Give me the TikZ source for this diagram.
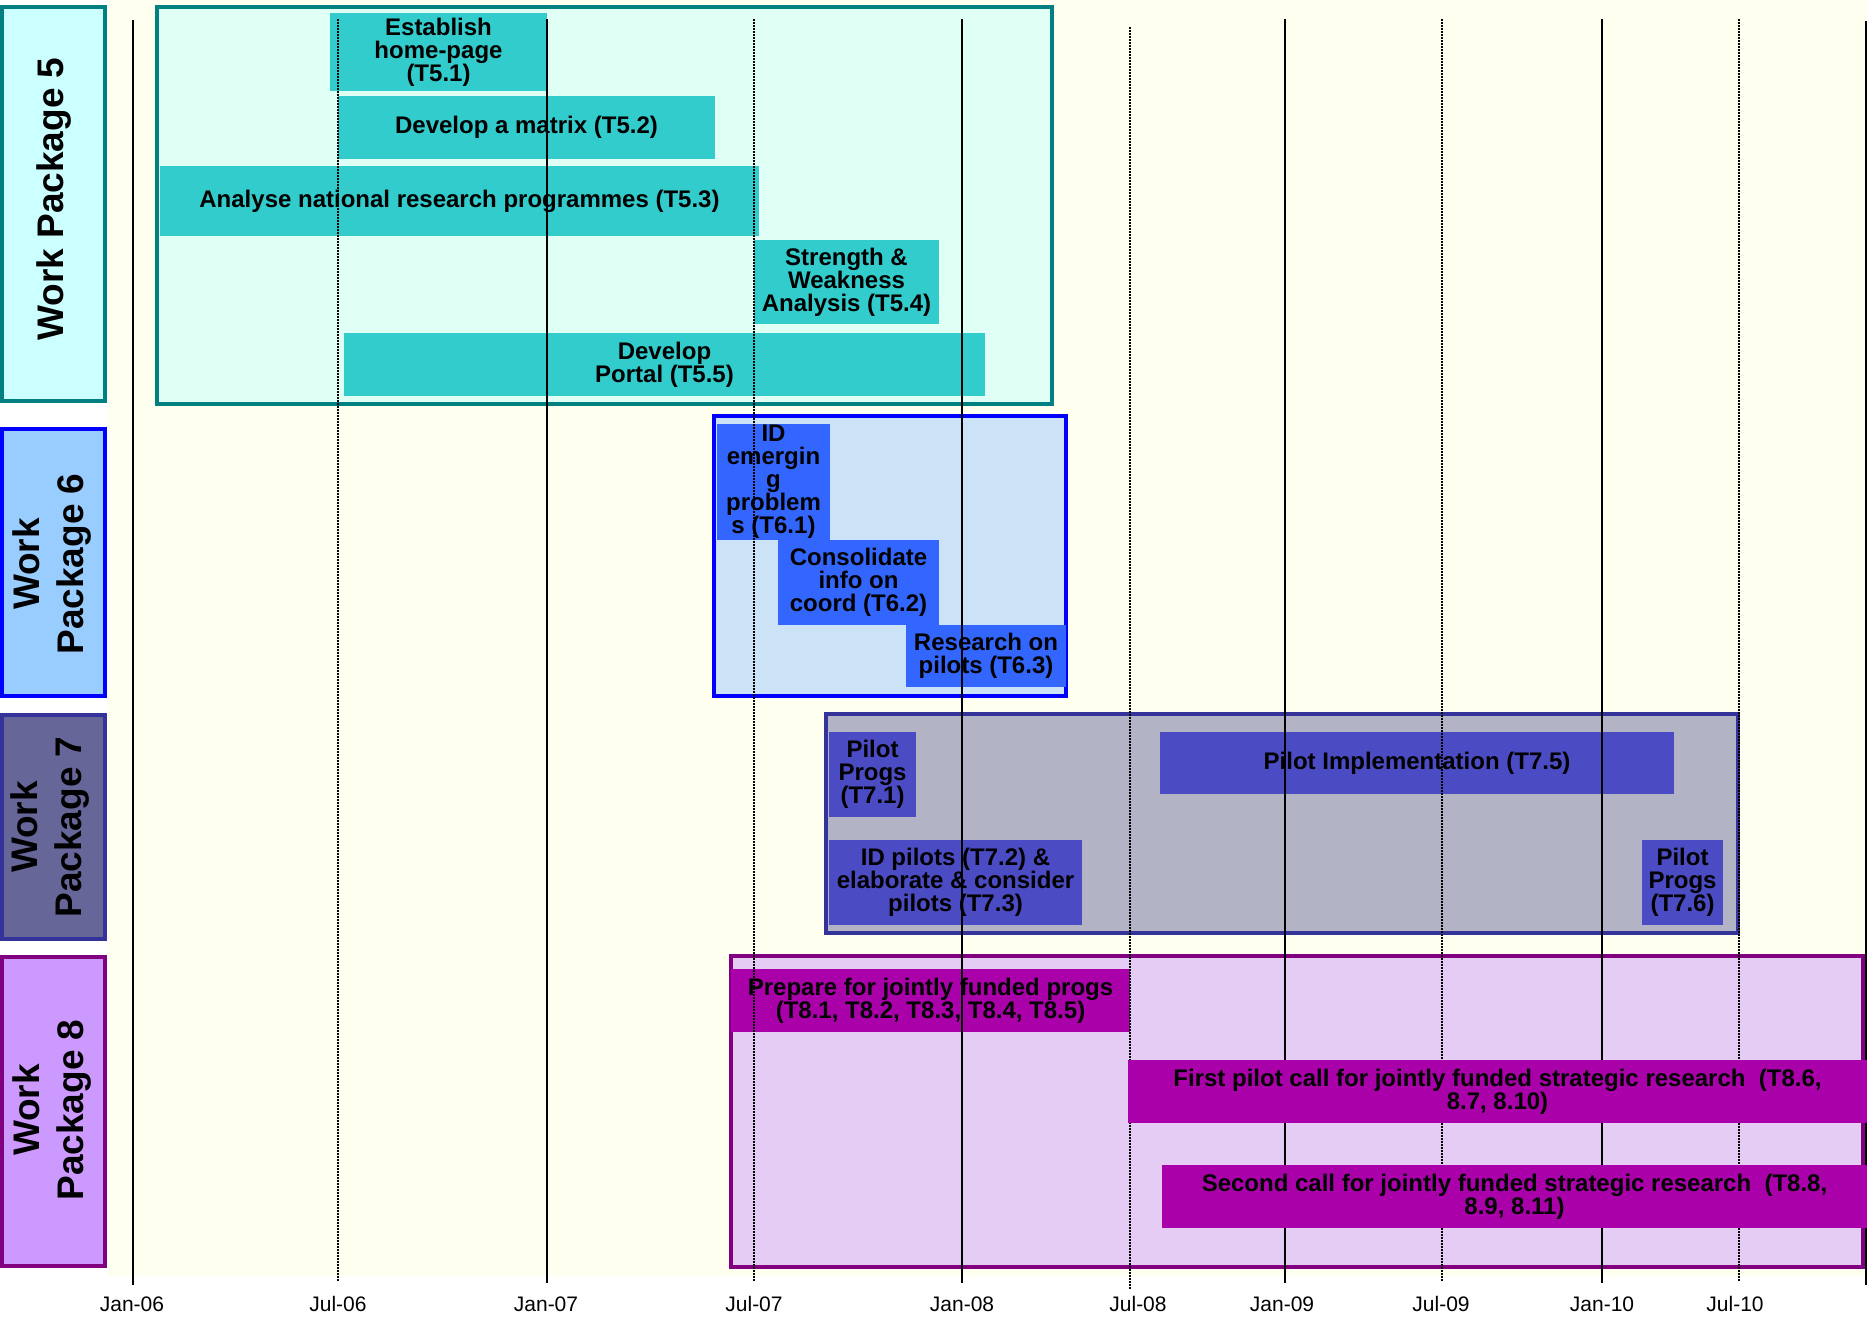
\documentclass[tikz,border=0pt]{standalone}
\usepackage{fontspec}
\setmainfont{Liberation Sans}
\definecolor{cream}{HTML}{FFFFF0}
\definecolor{tealb}{HTML}{008080}
\definecolor{wpfiveL}{HTML}{CCFFFF}
\definecolor{wpfiveB}{HTML}{E0FFF5}
\definecolor{wpfiveT}{HTML}{33CCCC}
\definecolor{wpsixL}{HTML}{99CCFF}
\definecolor{wpsixB}{HTML}{CCE2F6}
\definecolor{wpsixT}{HTML}{3366FF}
\definecolor{wpsixD}{HTML}{0000FF}
\definecolor{wpsevL}{HTML}{666699}
\definecolor{wpsevB}{HTML}{B3B3C6}
\definecolor{wpsevT}{HTML}{4B4BC3}
\definecolor{wpsevD}{HTML}{333399}
\definecolor{wpeigL}{HTML}{CC99FF}
\definecolor{wpeigB}{HTML}{E4CCF4}
\definecolor{wpeigT}{HTML}{AA00AA}
\definecolor{wpeigD}{HTML}{800080}
\newcommand\taskfont{\bfseries\fontsize{24}{23}\selectfont}
\newcommand\wpfont{\bfseries\fontsize{37}{44}\selectfont}
\newcommand\tickfont{\fontsize{21}{24}\selectfont}
\tikzset{
  taskbox/.style={inner sep=0pt, outer sep=0pt, align=center, font=\taskfont, text=black},
  wpframe/.style={inner sep=0pt, outer sep=0pt, line width=4pt},
  labframe/.style={inner sep=0pt, outer sep=0pt, line width=3.5pt},
  wptext/.style={rotate=90, align=center, font=\wpfont, inner sep=0pt},
  solidgrid/.style={line width=1.5pt, black},
  dotgrid/.style={line width=1.2pt, black, dash pattern=on 1.5pt off 1.5pt},
  ticklab/.style={font=\tickfont, inner sep=0pt}
}
% name, x1, y1, x2, y2, fill colour, text
\newcommand\taskbar[7]{%
  \node[taskbox, fill=#6, minimum width={#4-#2}, minimum height={#5-#3}] (#1) at ({(#2+#4)/2},{(#3+#5)/2}) {#7};}
% name, x1, y1, x2, y2, fill, draw, style
\newcommand\wpbox[8]{%
  \node[#8, fill=#6, draw=#7, minimum width={#4-#2}, minimum height={#5-#3}] (#1) at ({(#2+#4)/2},{(#3+#5)/2}) {};}
\begin{document}
\begin{tikzpicture}[x=1pt, y=-1pt]
  \fill[white] (0,0) rectangle (1867,1317);
  \fill[cream] (108,0) rectangle (1867,1276);
  \useasboundingbox (0,0) rectangle (1867,1317);

  % work package labels
  \wpbox{wp5lab}{2}{7}{105}{401}{wpfiveL}{tealb}{labframe}
  \wpbox{wp6lab}{2}{429}{105}{696}{wpsixL}{wpsixD}{labframe}
  \wpbox{wp7lab}{2}{715}{105}{939}{wpsevL}{wpsevD}{labframe}
  \wpbox{wp8lab}{2}{957}{105}{1266}{wpeigL}{wpeigD}{labframe}
  \node[wptext] (wp5txt) at (54,199) {Work Package 5};
  \node[wptext] (wp6txt) at (52,564) {Work\\Package 6};
  \node[wptext] (wp7txt) at (50,827) {Work\\Package 7};
  \node[wptext] (wp8txt) at (52,1110) {Work\\Package 8};

  % work package frames
  \wpbox{wp5}{157}{7}{1052}{404}{wpfiveB}{tealb}{wpframe}
  \wpbox{wp6}{714}{416}{1066}{696}{wpsixB}{wpsixD}{wpframe}
  \wpbox{wp7}{826}{714}{1738}{933}{wpsevB}{wpsevD}{wpframe}
  \wpbox{wp8}{731}{956}{1863}{1267}{wpeigB}{wpeigD}{wpframe}

  % tasks
  \taskbar{t51}{330}{13}{547}{91}{wpfiveT}{Establish\\home-page\\(T5.1)}
  \taskbar{t52}{338}{96}{715}{159}{wpfiveT}{Develop a matrix (T5.2)}
  \taskbar{t53}{160}{166}{759}{236}{wpfiveT}{Analyse national research programmes (T5.3)}
  \taskbar{t54}{754}{240}{939}{324}{wpfiveT}{Strength \&\\Weakness\\Analysis (T5.4)}
  \taskbar{t55}{344}{333}{985}{396}{wpfiveT}{Develop\\Portal (T5.5)}
  \taskbar{t61}{717}{424}{830}{540}{wpsixT}{ID\\emergin\\g\\problem\\s (T6.1)}
  \taskbar{t62}{778}{540}{939}{625}{wpsixT}{Consolidate\\info on\\coord (T6.2)}
  \taskbar{t63}{906}{625}{1066}{687}{wpsixT}{Research on\\pilots (T6.3)}
  \taskbar{t71}{829}{732}{916}{817}{wpsevT}{Pilot\\Progs\\(T7.1)}
  \taskbar{t75}{1160}{732}{1674}{794}{wpsevT}{Pilot Implementation (T7.5)}
  \taskbar{t72}{829}{840}{1082}{925}{wpsevT}{ID pilots (T7.2) \&\\elaborate \& consider\\pilots (T7.3)}
  \taskbar{t76}{1642}{840}{1723}{925}{wpsevT}{Pilot\\Progs\\(T7.6)}
  \taskbar{t81}{731}{969}{1130}{1032}{wpeigT}{Prepare for jointly funded progs\\(T8.1, T8.2, T8.3, T8.4, T8.5)}

  % grid lines
  \foreach \n/\x/\t/\b in {a/133/20/1285, c/547/19/1283, e/962/19/1283, g/1285/19/1283, i/1602/19/1283, k/1866/21/1285}{
    \coordinate (g\n top) at (\x,\t);
    \coordinate (g\n bot) at (\x,\b);
    \draw[solidgrid] (g\n top) -- (g\n bot);
  }
  \foreach \n/\x/\t/\b in {b/338/19/1282, d/754/19/1282, f/1130/27/1289, h/1442/19/1282, j/1739/19/1282}{
    \coordinate (g\n top) at (\x,\t);
    \coordinate (g\n bot) at (\x,\b);
    \draw[dotgrid] (g\n top) -- (g\n bot);
  }

  \taskbar{t86}{1128}{1060}{1867}{1123}{wpeigT}{First pilot call for jointly funded strategic research\ \ (T8.6,\\8.7, 8.10)}
  \taskbar{t88}{1162}{1165}{1867}{1228}{wpeigT}{Second call for jointly funded strategic research\ \ (T8.8,\\8.9, 8.11)}

  % axis labels
  \foreach \n/\x/\lab in {a/132/Jan-06, b/338/Jul-06, c/546/Jan-07, d/754/Jul-07, e/962/Jan-08, f/1138/Jul-08, g/1282/Jan-09, h/1441/Jul-09, i/1602/Jan-10, j/1735/Jul-10}{
    \node[ticklab] (lab\n) at (\x,1304) {\lab};
  }
\end{tikzpicture}
\end{document}
